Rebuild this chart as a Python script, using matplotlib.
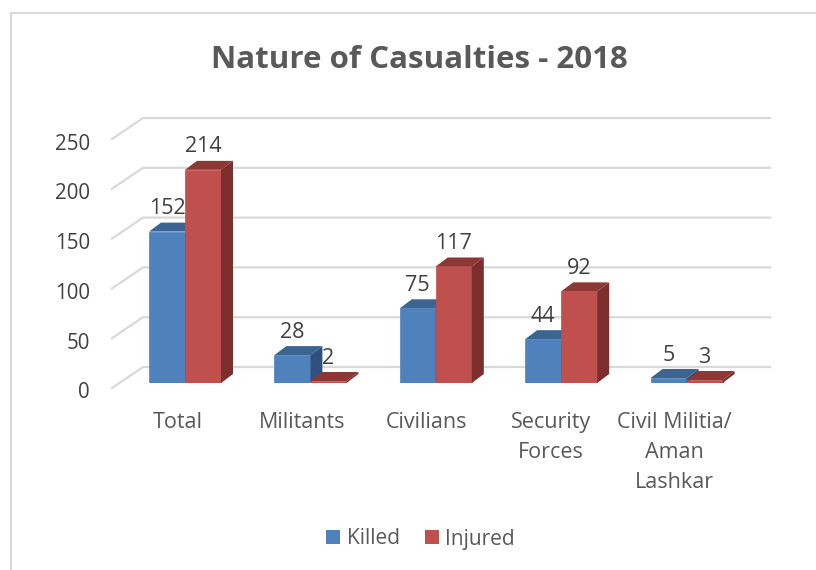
import matplotlib
matplotlib.use('Agg')
import matplotlib.pyplot as plt
from matplotlib.patches import Patch, Polygon

plt.rcParams['font.family'] = ['Open Sans', 'DejaVu Sans']

categories = ['Total', 'Militants', 'Civilians', 'Security\nForces', 'Civil Militia/\nAman\nLashkar']
killed = [152, 28, 75, 44, 5]
injured = [214, 2, 117, 92, 3]
y_ticks = [0, 50, 100, 150, 200, 250]

W, H = 816, 570
# pixel layout of the plot box
x0_px, x_step = 185, 125.4
y0_px, y_scale = 383, 0.996
bar_w = 36 / x_step
dep_x, dep_y = 12 / x_step, 9 / y_scale

fig = plt.figure(figsize=(W / 100, H / 100), dpi=100)
left = x0_px - 0.5 * x_step
bottom = H - y0_px
ax = fig.add_axes([left / W, bottom / H, 5 * x_step / W, 250 * y_scale / H])
ax.set_xlim(-0.5, 4.5)
ax.set_ylim(0, 250)
ax.axis('off')

# outer frame of the chart, runs off the bottom and the right
frame = '#d9d9d9'
fig.add_artist(plt.Line2D([10.5 / W, 10.5 / W], [0, 1 - 12.5 / H], color=frame, lw=1.5))
fig.add_artist(plt.Line2D([10.5 / W, 1], [1 - 12.5 / H, 1 - 12.5 / H], color=frame, lw=1.5))

# gridlines with the slanted part on the side wall
back_x = (143 - x0_px) / x_step
front_x = (112 - x0_px) / x_step
end_x = (770 - x0_px) / x_step
for v in y_ticks:
    ax.plot([front_x, back_x, end_x], [v - 5 / y_scale, v + 16 / y_scale, v + 16 / y_scale],
            color='#d9d9d9', lw=1.6, clip_on=False, zorder=1, solid_joinstyle='miter')
    ax.annotate(str(v), (front_x, v), xytext=(-22, -10), textcoords='offset pixels',
                ha='right', va='center', fontsize=14.8, color='#404040', annotation_clip=False)


def bar3d(x, v, front, top, side):
    ax.bar(x, v, bar_w, color=front, align='edge', zorder=3, edgecolor=front, linewidth=0.5)
    ax.add_patch(Polygon([(x, v), (x + dep_x, v + dep_y), (x + bar_w + dep_x, v + dep_y), (x + bar_w, v)],
                         facecolor=top, edgecolor='none', zorder=3, clip_on=False))
    ax.add_patch(Polygon([(x + bar_w, 0), (x + bar_w + dep_x, dep_y), (x + bar_w + dep_x, v + dep_y), (x + bar_w, v)],
                         facecolor=side, edgecolor='none', zorder=3, clip_on=False))


for i in range(len(categories)):
    bar3d(i - bar_w, killed[i], '#4f81bd', '#3b6491', '#2f5180')
    bar3d(i, injured[i], '#c0504d', '#8e3836', '#7b2e2c')
    for x, v in [(i - bar_w / 2, killed[i]), (i + bar_w / 2, injured[i])]:
        ax.annotate(str(v), (x, v), xytext=(0, 23), textcoords='offset pixels', ha='center', va='center',
                    fontsize=15.5, color='#404040', zorder=2, annotation_clip=False)
    ax.annotate(categories[i], (i, 0), xytext=(-7 - 1.2 * i, -29), textcoords='offset pixels', ha='center', va='top',
                fontsize=15.5, color='#595959', linespacing=1.55, annotation_clip=False)

fig.text(419.5 / W, 1 - 60 / H, 'Nature of Casualties - 2018', ha='center', va='center',
         fontsize=22.5, fontweight='bold', color='#595959')

handles = [Patch(facecolor='#4f81bd', label='Killed'), Patch(facecolor='#c0504d', label='Injured')]
fig.legend(handles=handles, loc='center', bbox_to_anchor=(420.5 / W, 1 - 539 / H), ncol=2, frameon=False,
           fontsize=15, labelcolor='#595959', handlelength=0.68, handleheight=0.68, handletextpad=0.3,
           columnspacing=1.2)

fig.savefig('out.png', dpi=100)
